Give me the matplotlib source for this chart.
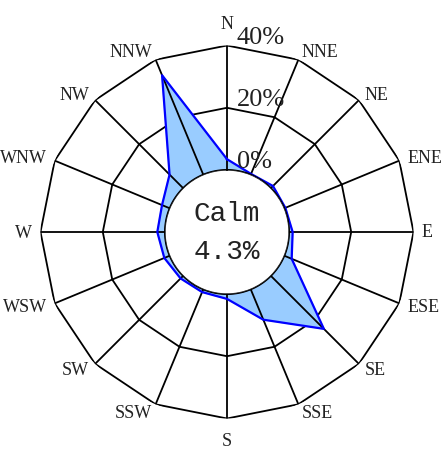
import numpy as np
import matplotlib
matplotlib.use('Agg')
import matplotlib.pyplot as plt

directions = ['N', 'NNE', 'NE', 'ENE', 'E', 'ESE', 'SE', 'SSE',
              'S', 'SSW', 'SW', 'WSW', 'W', 'WNW', 'NW', 'NNW']
freq = [3.5, 0.3, 1.0, 0.4, 1.2, 2.6, 24.1, 10.6,
        1.6, 1.0, 1.2, 1.9, 2.5, 2.7, 6.2, 34.6]
calm = 4.3
rings = [0, 20, 40]

rmax = 40
hole = 0.332  # calm circle radius as fraction of outer radius

fig = plt.figure(figsize=(4.43, 4.52), dpi=100)
ax = fig.add_axes([40.5 / 443, 32.5 / 452, 373 / 443, 373 / 452], projection='polar')
ax.set_theta_zero_location('N')
ax.set_theta_direction(-1)
ax.set_ylim(0, rmax)
ax.set_rorigin(-hole * rmax / (1 - hole))
ax.grid(False)
ax.set_xticks([])
ax.set_yticks([])
for s in ax.spines.values():
    s.set_visible(False)

theta = np.deg2rad(np.arange(len(directions)) * 22.5)
tc = np.append(theta, theta[0])

# polygon grid
for r in rings[1:]:
    ax.plot(tc, np.full(len(tc), r), color='black', lw=1.3, zorder=1)

# data
fc = np.append(freq, freq[0])
ax.fill(tc, fc, color='#99ccff', zorder=2)
ax.plot(tc, fc, color='#0000ff', lw=1.6, zorder=3)
# spokes drawn over the fill
for t in theta:
    ax.plot([t, t], [0, rmax], color='black', lw=1.3, zorder=2.5)

# calm circle
tt = np.linspace(0, 2 * np.pi, 361)
ax.fill(tt, np.zeros_like(tt), facecolor='white', edgecolor='black', lw=1.5, zorder=4)
ax.text(0, -hole * rmax / (1 - hole), 'Calm\n%.1f%%' % calm, ha='center', va='center',
        fontsize=20, family='Liberation Mono', linespacing=1.6, color='#222222', zorder=5)

# direction labels: anchored just outside the polygon corner
lab_font = dict(fontsize=13, family='Liberation Serif', color='#222222', zorder=5)
for i, (t, d) in enumerate(zip(theta, directions)):
    if i == 0:
        ax.text(t, rmax + 4.3, d, ha='center', va='bottom', **lab_font)
    elif i == 8:
        ax.text(t, rmax + 4.3, d, ha='center', va='top', **lab_font)
    elif i < 8:
        ax.text(t, rmax + 2.7, d, ha='left', va='center', **lab_font)
    else:
        ax.text(t, rmax + 2.7, d, ha='right', va='center', **lab_font)

# ring labels
for r in rings:
    ax.annotate('%d%%' % r, xy=(0, r), xytext=(7, -1.5), textcoords='offset points',
                ha='left', va='bottom', fontsize=19, family='Liberation Serif',
                color='#222222', zorder=5, annotation_clip=False)

fig.savefig('out.png', dpi=100)
